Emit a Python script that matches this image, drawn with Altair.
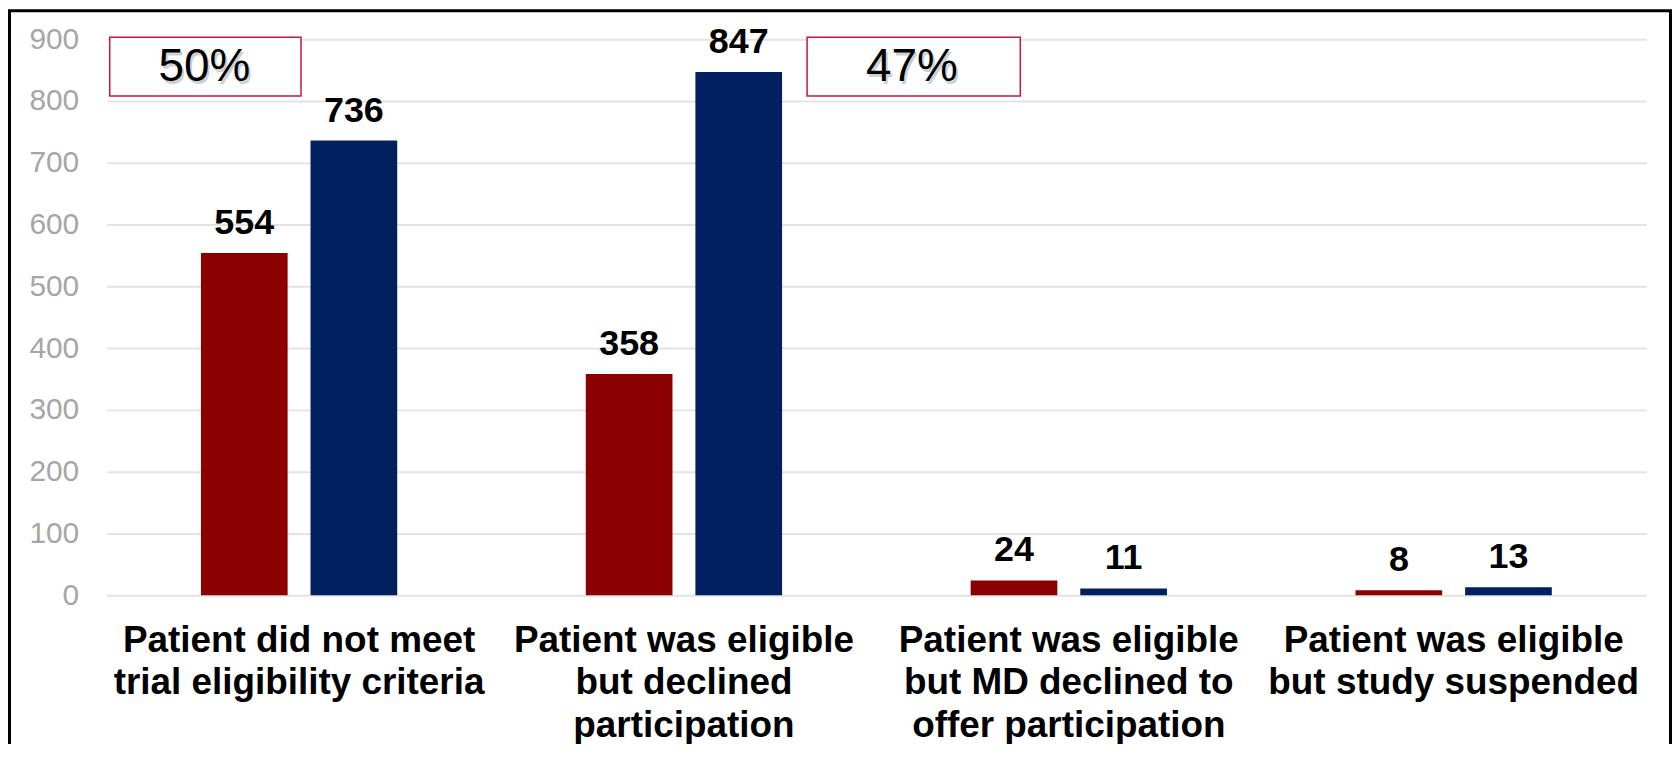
import altair as alt
import pandas as pd

# ---- data ----
categories = [
    "Patient did not meet|trial eligibility criteria",
    "Patient was eligible|but declined|participation",
    "Patient was eligible|but MD declined to|offer participation",
    "Patient was eligible|but study suspended",
]
series = ["Group 1", "Group 2"]
values_group1 = [554, 358, 24, 8]
values_group2 = [736, 847, 11, 13]
series_colors = ["#8B0000", "#002060"]
y_ticks = [0, 100, 200, 300, 400, 500, 600, 700, 800, 900]

# percentage call-outs (x in category units, y in data units)
pct_labels = ["50%", "47%"]
pct_box_x = [0.008, 1.820]
pct_box_x2 = [0.505, 2.374]
pct_text_x = [0.254, 2.092]
pct_box_y = [808, 808]
pct_box_y2 = [903, 903]
pct_text_y = [855, 855]

FONT = "Liberation Sans, Arial, Helvetica, sans-serif"
W, H = 1545, 558
PAD = {"left": 99, "top": 30, "right": 26, "bottom": 148}

bars_df = pd.DataFrame({
    "category": categories * 2,
    "series": [series[0]] * len(categories) + [series[1]] * len(categories),
    "value": values_group1 + values_group2,
})

ann_df = pd.DataFrame({
    "label": pct_labels,
    "x": pct_box_x,
    "x2": pct_box_x2,
    "tx": pct_text_x,
    "y": pct_box_y,
    "y2": pct_box_y2,
    "ty": pct_text_y,
})

y_scale = alt.Scale(domain=[0, 900], nice=False, zero=True)
y_axis = alt.Axis(title=None, values=y_ticks, labelFont=FONT,
                  labelFontSize=30, labelColor="#a6a6a6", labelPadding=28,
                  ticks=False, domain=False, gridColor="#e3e3e3", gridWidth=2)
x_scale = alt.Scale(domain=categories, paddingInner=0.49, paddingOuter=0.245)
xoff = alt.XOffset("series:N", sort=series,
                   scale=alt.Scale(domain=series, paddingInner=0.209, paddingOuter=0))
color = alt.Color("series:N", sort=series,
                  scale=alt.Scale(domain=series, range=series_colors), legend=None)

bars = alt.Chart(bars_df).mark_bar().encode(
    x=alt.X("category:N", sort=categories, scale=x_scale,
            axis=alt.Axis(title=None, labelAngle=0,
                          labelExpr="split(datum.label, '|')",
                          labelFont=FONT, labelFontSize=37, labelFontWeight="bold",
                          labelColor="black", labelLineHeight=43, labelPadding=27,
                          ticks=False, domain=False, labelLimit=0,
                          labelOverlap=False, labelBound=False, grid=False)),
    xOffset=xoff,
    y=alt.Y("value:Q", scale=y_scale, axis=y_axis),
    color=color,
)

bar_labels = alt.Chart(bars_df).mark_text(
    dy=-19, baseline="alphabetic", font=FONT, fontSize=36,
    fontWeight="bold", color="black"
).encode(
    x=alt.X("category:N", sort=categories, scale=x_scale, axis=None),
    xOffset=xoff,
    y=alt.Y("value:Q", scale=y_scale, axis=y_axis),
    text=alt.Text("value:Q"),
)

ann_x_scale = alt.Scale(domain=[0, 4], nice=False, zero=False)

boxes = alt.Chart(ann_df).mark_rect(
    fill="white", stroke="#C8163F", strokeWidth=1.5
).encode(
    x=alt.X("x:Q", scale=ann_x_scale, axis=None),
    x2="x2:Q",
    y=alt.Y("y:Q", scale=y_scale, axis=y_axis),
    y2="y2:Q",
)

pct_shadow = alt.Chart(ann_df).mark_text(
    font=FONT, fontSize=46, baseline="middle", align="center",
    color="#000000", opacity=0.18, dx=2, dy=3
).encode(
    x=alt.X("tx:Q", scale=ann_x_scale, axis=None),
    y=alt.Y("ty:Q", scale=y_scale, axis=y_axis),
    text="label:N",
)

pct_text = alt.Chart(ann_df).mark_text(
    font=FONT, fontSize=46, baseline="middle", align="center", color="black"
).encode(
    x=alt.X("tx:Q", scale=ann_x_scale, axis=None),
    y=alt.Y("ty:Q", scale=y_scale, axis=y_axis),
    text="label:N",
)

frame = alt.Chart(pd.DataFrame({"k": [0]})).mark_rect(
    filled=False, stroke="black", strokeWidth=3
).encode(
    x=alt.value(-PAD["left"] + 1.5),
    x2=alt.value(W + PAD["right"] - 1.5),
    y=alt.value(-PAD["top"] + 1.5),
    y2=alt.value(H + PAD["bottom"] + 20),
)

chart = alt.layer(
    bars, bar_labels, boxes, pct_shadow, pct_text, frame
).resolve_scale(
    x="independent"
).properties(
    width=W, height=H, padding=PAD,
    autosize=alt.AutoSizeParams(type="none"),
    background="white",
).configure_view(
    stroke=None
).configure_axisY(
    labelFont=FONT, labelFontSize=30, labelColor="#a6a6a6", labelPadding=28
)

chart.save("out.html", embed_options={"renderer": "svg", "actions": False})
